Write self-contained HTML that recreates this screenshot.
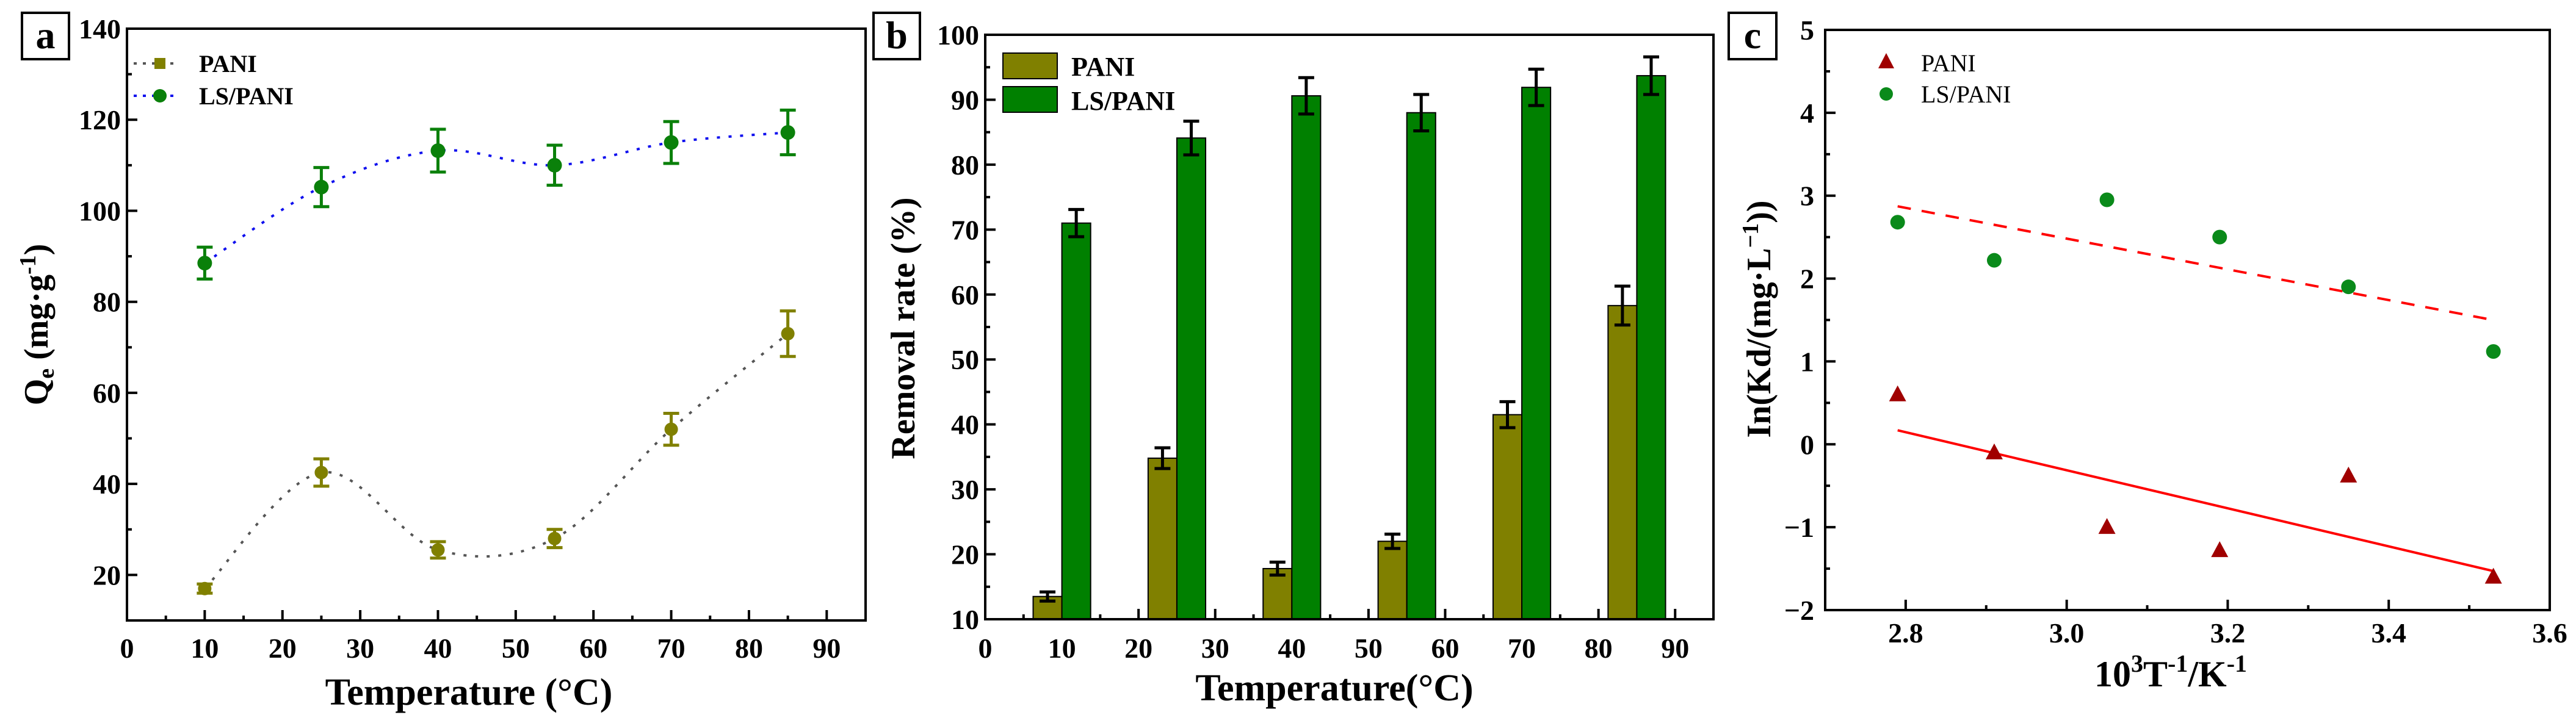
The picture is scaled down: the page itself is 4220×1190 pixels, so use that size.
<!DOCTYPE html>
<html><head><meta charset="utf-8"><style>
html,body{margin:0;padding:0;background:#fff;}
svg{display:block;font-family:"Liberation Serif",serif;}
</style></head><body>
<svg id="fig" width="4220" height="1190" viewBox="0 0 4220 1190"></svg>
<script>
// Panel a data
const aTemps=[10,25,40,55,70,85];
const aPani=[17,42.5,25.5,28,52,73];
const aPaniErr=[1,3,1.8,2,3.5,5];
const aLs=[88.5,105.2,113.2,110,115,117.2];
const aLsErr=[3.5,4.3,4.7,4.4,4.6,4.9];
const aXTicks=[0,10,20,30,40,50,60,70,80,90];
const aYTicks=[20,40,60,80,100,120,140];
// Panel b data
const bCats=[10,25,40,55,70,85];
const bPani=[13.5,34.8,17.8,22,41.5,58.3];
const bPaniErr=[0.7,1.6,1,1.1,2,3];
const bLs=[71,84.1,90.6,88,91.9,93.7];
const bLsErr=[2.1,2.6,2.8,2.8,2.8,2.9];
const bXTicks=[0,10,20,30,40,50,60,70,80,90];
const bYTicks=[10,20,30,40,50,60,70,80,90,100];
// Panel c data
const cX=[2.79,2.91,3.05,3.19,3.35,3.53];
const cPani=[0.6,-0.1,-1.0,-1.28,-0.38,-1.6];
const cLs=[2.68,2.22,2.95,2.5,1.9,1.12];
const cXTicks=["2.8","3.0","3.2","3.4","3.6"];
const cYTicks=["-2","-1","0","1","2","3","4","5"];

const NS="http://www.w3.org/2000/svg";
const svg=document.getElementById('fig');
function mk(tag,attrs,parent){const e=document.createElementNS(NS,tag);for(const k in attrs)e.setAttribute(k,attrs[k]);(parent||svg).appendChild(e);return e;}
function scale(d0,d1,r0,r1){return v=>r0+(v-d0)/(d1-d0)*(r1-r0);}

function frame(g,L,R,T,B,name){
  const r=mk('rect',{x:L,y:T,width:R-L,height:B-T,fill:'none',stroke:'#000','stroke-width':4},g);
  
  
}
function xTick(g,x,B,len){const l=mk('line',{x1:x,x2:x,y1:B,y2:B-len,stroke:'#000','stroke-width':4},g);
  
  }
function yTick(g,y,L,len){const l=mk('line',{x1:L,x2:L+len,y1:y,y2:y,stroke:'#000','stroke-width':4},g);
  
  }
function text(g,x,y,s,opts,name){const t=mk('text',Object.assign({x:x,y:y,'font-size':46,'font-weight':'bold','text-anchor':'middle',fill:'#000'},opts||{}),g);t.textContent=s;
  
  return t;}
function labelBox(g,x,y,w,h,s,name){
  const r=mk('rect',{x:x,y:y,width:w,height:h,fill:'#fff',stroke:'#000','stroke-width':4},g);
  
  
  text(g,x+w/2,y+h-18,s,{'font-size':64,'font-weight':'bold'},name);
}
function errBar(g,x,y1,y2,color,name){
  const gg=mk('g',{stroke:color,'stroke-width':5},g);
  
  
  mk('line',{x1:x,x2:x,y1:y1,y2:y2},gg);
  mk('line',{x1:x-13,x2:x+13,y1:y1,y2:y1},gg);
  mk('line',{x1:x-13,x2:x+13,y1:y2,y2:y2},gg);
}
function smoothPath(pts){
  let d='M'+pts[0][0]+','+pts[0][1];
  for(let i=0;i<pts.length-1;i++){
    const p0=pts[Math.max(0,i-1)],p1=pts[i],p2=pts[i+1],p3=pts[Math.min(pts.length-1,i+2)];
    const c1=[p1[0]+(p2[0]-p0[0])/6,p1[1]+(p2[1]-p0[1])/6];
    const c2=[p2[0]-(p3[0]-p1[0])/6,p2[1]-(p3[1]-p1[1])/6];
    d+=' C'+c1[0]+','+c1[1]+' '+c2[0]+','+c2[1]+' '+p2[0]+','+p2[1];
  }
  return d;
}

// ===== Panel a =====
(function(){
  const L=208,R=1418,T=47,B=1017;
  const g=mk('g',{});
  
  
  const x=scale(0,95,L,R), y=scale(10,140,B,T);
  for(let v=5;v<95;v+=5) xTick(g,x(v),B,v%10===0?17:8);
  for(let v=10;v<140;v+=10) yTick(g,y(v),L,v%20===0?17:8);
  aXTicks.forEach(v=>text(g,x(v),1078,String(v),{},'x-tick-label'));
  aYTicks.forEach(v=>text(g,L-10,y(v)+16,String(v),{'text-anchor':'end'},'y-tick-label'));
  const p1=mk('path',{d:smoothPath(aTemps.map((t,i)=>[x(t),y(aPani[i])])),fill:'none',stroke:'#555','stroke-width':4,'stroke-dasharray':'5 14'},g);
  
  
  const p2=mk('path',{d:smoothPath(aTemps.map((t,i)=>[x(t),y(aLs[i])])),fill:'none',stroke:'#1010ee','stroke-width':4,'stroke-dasharray':'5 14'},g);
  
  
  aTemps.forEach((t,i)=>{
    errBar(g,x(t),y(aPani[i]+aPaniErr[i]),y(aPani[i]-aPaniErr[i]),'#808000','pani-error-bar');
    const c=mk('circle',{cx:x(t),cy:y(aPani[i]),r:11,fill:'#808000'},g);
    
    
    errBar(g,x(t),y(aLs[i]+aLsErr[i]),y(aLs[i]-aLsErr[i]),'#0a800a','ls-pani-error-bar');
    const c2=mk('circle',{cx:x(t),cy:y(aLs[i]),r:12,fill:'#0a800a'},g);
    
    
  });
  const lg=mk('g',{},g);
  
  
  mk('line',{x1:219,x2:290,y1:104,y2:104,stroke:'#555','stroke-width':4,'stroke-dasharray':'5 10'},lg);
  mk('rect',{x:253,y:95,width:18,height:18,fill:'#808000'},lg);
  text(lg,326,118,'PANI',{'text-anchor':'start','font-size':40},'legend-pani');
  mk('line',{x1:219,x2:290,y1:157,y2:157,stroke:'#1010ee','stroke-width':4,'stroke-dasharray':'5 10'},lg);
  mk('circle',{cx:262,cy:157,r:11,fill:'#0a800a'},lg);
  text(lg,326,171,'LS/PANI',{'text-anchor':'start','font-size':40},'legend-ls-pani');
  frame(g,L,R,T,B,'plot-frame-a');
  const yt=text(g,0,0,'',{'font-size':56,transform:'translate(78,532) rotate(-90)'},'y-axis-title-a');
  yt.innerHTML='Q<tspan font-size="38" dy="10">e</tspan><tspan dy="-10"> (mg·g</tspan><tspan font-size="38" dy="-20">-1</tspan><tspan dy="20">)</tspan>';
  text(g,768,1155,'Temperature (°C)',{'font-size':62},'x-axis-title-a');
  labelBox(g,36,21,77,76,'a','panel-label-a');
})();

// ===== Panel b =====
(function(){
  const L=1614,R=2807,T=57,B=1015;
  const g=mk('g',{});
  
  
  const x=scale(0,95,L,R), y=scale(10,100,B,T);
  for(let v=5;v<95;v+=5) xTick(g,x(v),B,v%10===0?17:8);
  for(let v=15;v<100;v+=5) yTick(g,y(v),L,v%10===0?17:8);
  bXTicks.forEach(v=>text(g,x(v),1078,String(v),{},'x-tick-label'));
  bYTicks.forEach(v=>text(g,L-10,y(v)+16,String(v),{'text-anchor':'end'},'y-tick-label'));
  const bw=3.75;
  bCats.forEach((c,i)=>{
    const r1=mk('rect',{x:x(c-bw),y:y(bPani[i]),width:x(c)-x(c-bw),height:B-y(bPani[i]),fill:'#808000',stroke:'#000','stroke-width':2},g);
    
    
    const r2=mk('rect',{x:x(c),y:y(bLs[i]),width:x(c+bw)-x(c),height:B-y(bLs[i]),fill:'#008000',stroke:'#000','stroke-width':2},g);
    
    
    errBar(g,x(c-bw/2),y(bPani[i]+bPaniErr[i]),y(bPani[i]-bPaniErr[i]),'#000','pani-error-bar');
    errBar(g,x(c+bw/2),y(bLs[i]+bLsErr[i]),y(bLs[i]-bLsErr[i]),'#000','ls-pani-error-bar');
  });
  const lg=mk('g',{},g);
  
  
  mk('rect',{x:1643,y:87,width:89,height:42,fill:'#808000',stroke:'#000','stroke-width':2},lg);
  text(lg,1755,124,'PANI',{'text-anchor':'start','font-size':44},'legend-pani');
  mk('rect',{x:1643,y:142,width:89,height:42,fill:'#008000',stroke:'#000','stroke-width':2},lg);
  text(lg,1755,180,'LS/PANI',{'text-anchor':'start','font-size':44},'legend-ls-pani');
  frame(g,L,R,T,B,'plot-frame-b');
  text(g,0,0,'Removal rate (%)',{'font-size':56,transform:'translate(1498,538) rotate(-90)'},'y-axis-title-b');
  text(g,2186,1148,'Temperature(°C)',{'font-size':62},'x-axis-title-b');
  labelBox(g,1431,21,76,76,'b','panel-label-b');
})();

// ===== Panel c =====
(function(){
  const L=2990,R=4177,T=49,B=1000;
  const g=mk('g',{});
  
  
  const x=scale(2.7,3.6,L,R), y=scale(-2,5,B,T);
  for(let k=28;k<36;k++) xTick(g,x(k/10),B,k%2===0?17:8);
  for(let k=-3;k<10;k++) yTick(g,y(k/2),L,k%2===0?17:8);
  cXTicks.forEach(v=>text(g,x(parseFloat(v)),1053,v,{},'x-tick-label'));
  cYTicks.forEach(v=>text(g,L-18,y(parseFloat(v))+16,v.replace('-','−'),{'text-anchor':'end'},'y-tick-label'));
  function fit(xs,ys){const n=xs.length,mx=xs.reduce((a,b)=>a+b)/n,my=ys.reduce((a,b)=>a+b)/n;let sxy=0,sxx=0;xs.forEach((v,i)=>{sxy+=(v-mx)*(ys[i]-my);sxx+=(v-mx)*(v-mx);});const m=sxy/sxx;return [m,my-m*mx];}
  const fp=fit(cX,cPani), fl=fit(cX,cLs);
  const x0=cX[0], x1=cX[cX.length-1];
  const l1=mk('line',{x1:x(x0),y1:y(fp[0]*x0+fp[1]),x2:x(x1),y2:y(fp[0]*x1+fp[1]),stroke:'#f00','stroke-width':4},g);
  
  
  const l2=mk('line',{x1:x(x0),y1:y(fl[0]*x0+fl[1]),x2:x(x1),y2:y(fl[0]*x1+fl[1]),stroke:'#f00','stroke-width':4,'stroke-dasharray':'22 18'},g);
  
  
  cX.forEach((v,i)=>{
    const px=x(v),py=y(cPani[i]);
    const t=mk('polygon',{points:(px)+','+(py-15)+' '+(px-14)+','+(py+11)+' '+(px+14)+','+(py+11),fill:'#a00000'},g);
    
    
    const c=mk('circle',{cx:px,cy:y(cLs[i]),r:12,fill:'#0a8a1a'},g);
    
    
  });
  const lg=mk('g',{},g);
  
  
  mk('polygon',{points:'3090,87 3077,112 3103,112',fill:'#a00000'},lg);
  text(lg,3147,117,'PANI',{'text-anchor':'start','font-size':40,'font-weight':'normal'},'legend-pani');
  mk('circle',{cx:3090,cy:154,r:11,fill:'#0a8a1a'},lg);
  text(lg,3147,168,'LS/PANI',{'text-anchor':'start','font-size':40,'font-weight':'normal'},'legend-ls-pani');
  frame(g,L,R,T,B,'plot-frame-c');
  const yt=text(g,0,0,'',{'font-size':56,transform:'translate(2900,523) rotate(-90)'},'y-axis-title-c');
  yt.innerHTML='In(Kd/(mg·L<tspan font-size="38" dy="-20">−1</tspan><tspan dy="20">))</tspan>';
  const xt=text(g,3556,1125,'',{'font-size':60},'x-axis-title-c');
  xt.innerHTML='10<tspan font-size="40" dy="-24">3</tspan><tspan dy="24">T</tspan><tspan font-size="40" dy="-24">-1</tspan><tspan dy="24">/K</tspan><tspan font-size="40" dy="-24">-1</tspan>';
  labelBox(g,2832,21,78,76,'c','panel-label-c');
})();
</script>
</body></html>
